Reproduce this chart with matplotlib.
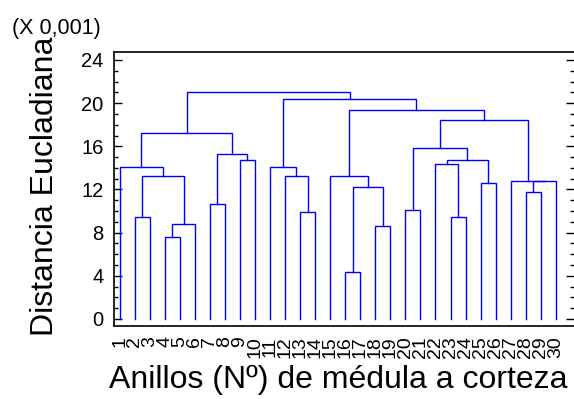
import numpy as np
import matplotlib.pyplot as plt
from matplotlib.ticker import MultipleLocator

plt.rcParams['font.family'] = ['Liberation Sans', 'DejaVu Sans']

# leaves (rings) in dendrogram order
leaf_labels = [str(i) for i in range(1, 31)]

# agglomeration steps: new node ids 31, 32, ... ; heights in units of 0.001
merge_left = [4, 31, 2, 33, 1, 7, 9, 36, 35,
              13, 12, 11,
              16, 18, 43, 15,
              20, 23, 22, 25, 49, 47,
              28, 53, 27, 52, 46, 42, 39]
merge_right = [5, 6, 3, 32, 34, 8, 10, 37, 38,
               14, 40, 41,
               17, 19, 44, 45,
               21, 24, 48, 26, 50, 51,
               29, 30, 54, 55, 56, 57, 58]
merge_height = [7.57, 8.80, 9.48, 13.28, 14.09, 10.63, 14.70, 15.29, 17.27,
                9.89, 13.28, 14.09,
                4.39, 8.62, 12.26, 13.28,
                10.13, 9.48, 14.40, 12.57, 14.70, 15.82,
                11.77, 12.82, 12.79, 18.41, 19.37, 20.39, 21.04]

fig = plt.figure(figsize=(5.74, 3.99), dpi=100)
ax = fig.add_axes([113.5/574, 73/399, 460.5/574, 274/399])

pos = {}
hgt = {}
for i, lab in enumerate(leaf_labels):
    pos[i + 1] = i + 1
    hgt[i + 1] = 0.0

for k in range(len(merge_height)):
    a = merge_left[k]
    b = merge_right[k]
    h = merge_height[k]
    ax.plot([pos[a], pos[a], pos[b], pos[b]], [hgt[a], h, h, hgt[b]],
            color='#0000ff', lw=1.0, solid_joinstyle='miter')
    node = 31 + k
    pos[node] = (pos[a] + pos[b]) / 2
    hgt[node] = h

ax.set_xlim(0.59, 31.21)
ax.set_ylim(-0.65, 24.74)

ax.set_xticks(range(1, 31))
ax.set_xticklabels(leaf_labels, rotation=90)
ax.tick_params(axis='x', length=0, pad=7.5, labelsize=14)

ax.yaxis.set_major_locator(MultipleLocator(4))
ax.yaxis.set_minor_locator(MultipleLocator(1))
ax.tick_params(axis='y', which='both', direction='in', left=True, right=True,
               labelsize=14.5, pad=7.2, width=1.0)
ax.tick_params(axis='y', which='major', length=5.5)
ax.tick_params(axis='y', which='minor', length=3)

for s in ['left', 'bottom', 'top']:
    ax.spines[s].set_linewidth(1.2)
ax.spines['right'].set_visible(False)

fig.text(53/574, 1 - 186/399, 'Distancia Eucladiana', rotation=90,
         rotation_mode='anchor', ha='center', va='baseline', fontsize=23)
fig.text(338/574, 1 - 388/399, 'Anillos (Nº) de médula a corteza',
         ha='center', va='baseline', fontsize=23)
fig.text(12/574, 1 - 34/399, '(X 0,001)', ha='left', va='baseline', fontsize=15.5)

fig.savefig('out.png', dpi=100)
